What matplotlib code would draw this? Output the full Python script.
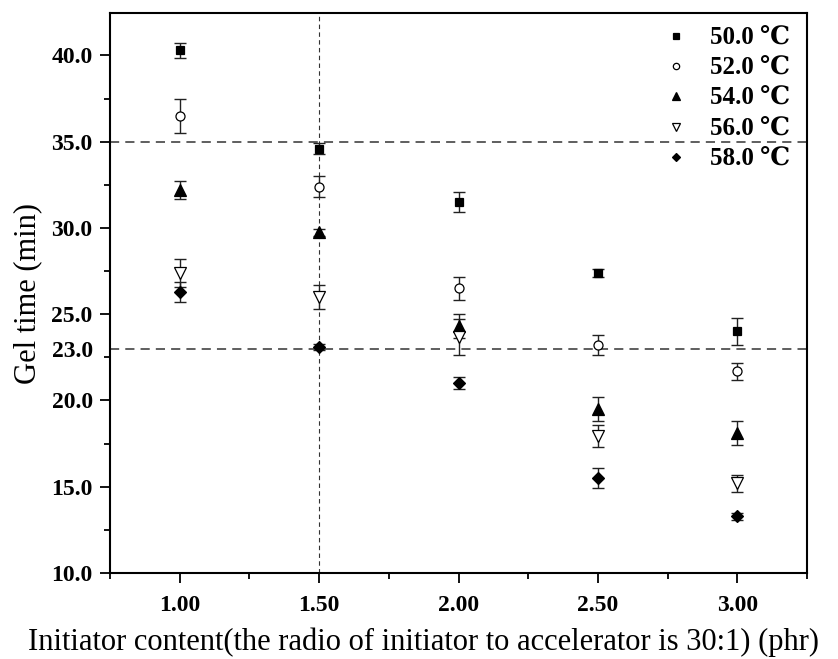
import matplotlib
matplotlib.use("Agg")
import matplotlib.pyplot as plt
import numpy as np

# Данные: время гелеобразования при разных температурах
content = [1.00, 1.50, 2.00, 2.50, 3.00]
temps = ["50.0", "52.0", "54.0", "56.0", "58.0"]

gel_50 = [40.3, 34.6, 31.5, 27.4, 24.0]
err_50 = [0.45, 0.3, 0.6, 0.25, 0.78]
gel_52 = [36.5, 32.4, 26.5, 23.2, 21.7]
err_52 = [1.0, 0.6, 0.68, 0.57, 0.5]
gel_54 = [32.2, 29.75, 24.3, 19.5, 18.1]
err_54 = [0.5, 0.2, 0.7, 0.7, 0.7]
gel_56 = [27.4, 26.0, 23.7, 17.95, 15.2]
err_56 = [0.8, 0.7, 1.05, 0.65, 0.5]
gel_58 = [26.3, 23.1, 21.0, 15.5, 13.3]
err_58 = [0.58, 0.15, 0.35, 0.6, 0.2]

series = [
    (gel_50, err_50, "s", "black", 6),
    (gel_52, err_52, "o", "white", 6.5),
    (gel_54, err_54, "^", "black", 8.5),
    (gel_56, err_56, "v", "white", 8.5),
    (gel_58, err_58, "D", "black", 6.5),
]

serif = ["Liberation Serif", "DejaVu Serif"]
plt.rcParams["font.family"] = serif

fig = plt.figure(figsize=(8.38, 6.59), dpi=100)
ax = fig.add_axes([0.1313, 0.1305, 0.8318, 0.8495])

# Опорные линии
ax.axhline(35, color="#333333", lw=1.1, ls=(0, (6, 4)), zorder=1)
ax.axhline(23, color="#333333", lw=1.1, ls=(0, (6, 4)), zorder=1)
ax.axvline(1.5, color="#333333", lw=0.8, ls=(0, (4, 3)), zorder=1)

for (vals, errs, marker, face, ms), t in zip(series, temps):
    ax.errorbar(content, vals, yerr=errs, fmt="none", ecolor="#222222",
                elinewidth=1.0, capsize=4, capthick=1.0, zorder=2)
    ax.plot(content, vals, ls="none", marker=marker, ms=ms, mfc=face,
            mec="black", mew=0.9, zorder=3, label=f"{t} ℃")

ax.set_xlim(0.75, 3.25)
ax.set_ylim(10, 42.45)
ax.set_xticks(content)
ax.set_xticklabels([f"{v:.2f}" for v in content])
ax.set_xticks([0.75, 1.25, 1.75, 2.25, 2.75, 3.25], minor=True)

yt = [10, 15, 20, 23, 25, 30, 35, 40]
ax.set_yticks(yt)
ax.set_yticklabels([f"{v:.1f}" for v in yt])
ax.set_yticks([12.5, 17.5, 22.5, 27.5, 32.5, 37.5], minor=True)
for tick in ax.yaxis.get_major_ticks():
    if tick.get_loc() == 23:
        tick.tick1line.set_visible(False)

ax.tick_params(which="major", direction="out", length=7.5, width=1.3, pad=5)
ax.tick_params(axis="x", which="major", pad=8)
ax.tick_params(which="minor", direction="out", length=4, width=1.3)
for lab in ax.get_xticklabels() + ax.get_yticklabels():
    lab.set_fontweight("bold")
    lab.set_fontsize(17)

for sp in ax.spines.values():
    sp.set_linewidth(1.5)

ax.set_ylabel("Gel time (min)", fontsize=22)
ax.yaxis.set_label_coords(-0.097, 0.5)
ax.set_xlabel("Initiator content(the radio of initiator to accelerator is 30:1) (phr)",
              fontsize=22)
ax.xaxis.set_label_coords(0.449, -0.097)

leg = ax.legend(loc="upper right", bbox_to_anchor=(0.975, 0.976), frameon=False,
                markerscale=0.7, prop={"weight": "bold", "size": 18},
                handletextpad=0.85, labelspacing=0.29, borderaxespad=0,
                borderpad=0, handlelength=1.0)

plt.savefig("out.png", dpi=100)
plt.close(fig)
